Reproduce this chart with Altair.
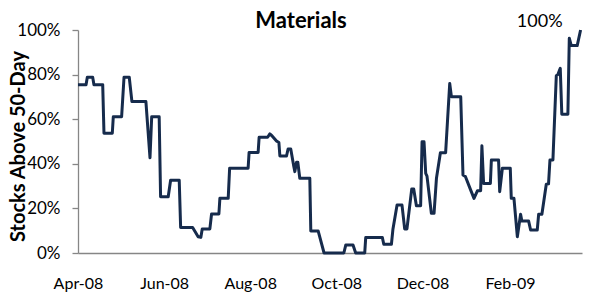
import altair as alt
import pandas as pd

# days after 2008-04-01 at each vertex of the line, and share of stocks above 50-day MA
days = [0, 5.7, 6.6, 10.4, 11.3, 17.5, 18.4, 24.3, 25, 30.9, 32.6, 36.3, 38.2, 48.1,
        51, 52.2, 57.5, 58.5, 63.9, 65.6, 71.7, 72.7, 81.2, 85.1, 87, 88, 93.4, 94.6,
        99.8, 100.5, 106.4, 107.4, 120.5, 121.2, 127.6, 128.3, 134.3, 135.9, 137.5,
        140.6, 142.3, 143, 147.7, 148.8, 150.7, 152.9, 153.6, 154.8, 155.7, 157.1,
        164.2, 164.9, 170.1, 174.3, 188.3, 189.7, 194.8, 196.7, 203.1, 203.8, 215.6,
        216.6, 222, 223.1, 226, 229.5, 231.4, 233, 236.4, 237.8, 239.7, 242.7, 243.7,
        245.1, 246.3, 247.2, 250.3, 252.2, 253.9, 256.7, 260.4, 263.3, 264.5, 271.1,
        272.7, 274.4, 278.1, 280.5, 282.9, 285.2, 286.1, 287.3, 292.1, 292.8, 297.9,
        298.7, 300.6, 306.2, 306.9, 308.8, 311.2, 313.5, 314.4, 319.2, 320.6, 325.3,
        326.3, 328.6, 331.7, 333.3, 334.3, 336.4, 338.8, 339.9, 341.6, 342.7, 347,
        348, 349.4, 353.6, 356]
values = [75.5, 75.5, 78.8, 78.8, 75.5, 75.5, 53.7, 53.7, 61.1, 61.1, 78.8, 78.8, 67.9,
          67.9, 42.7, 61.1, 61.1, 25.2, 25.2, 32.6, 32.6, 11.4, 11.4, 7.3, 7.0, 10.8,
          10.8, 17.5, 17.5, 24.5, 24.5, 38, 38, 45.1, 45.1, 51.9, 51.9, 53.4, 52.5,
          50.2, 49.5, 43.5, 43.5, 46.6, 46.6, 38.7, 36.5, 40.7, 40.7, 33.5, 33.5, 9.9,
          9.9, 0, 0, 3.6, 3.6, 0, 0, 6.9, 6.9, 3.9, 3.9, 10.8, 21.5, 21.5, 10.8, 10.8,
          28.7, 28.7, 21.2, 21.2, 49.9, 49.9, 35.7, 34.5, 17.8, 17.8, 33.5, 45, 45, 76,
          70.1, 70.1, 35, 34.3, 28.3, 24.5, 27.9, 27.9, 48.1, 31.2, 31.2, 41.7, 41.7,
          27.5, 38, 38, 24.5, 24.5, 7.3, 17.4, 14.3, 14.3, 10.3, 10.3, 17.4, 17.4, 30.8,
          31, 41.7, 41.7, 79.5, 80, 82.8, 62.2, 62.2, 96.3, 93, 93, 100]

title_text = "Materials"
y_title = "Stocks Above 50-Day"
x_tick_months = [(2008, 4), (2008, 6), (2008, 8), (2008, 10), (2008, 12), (2009, 2)]
y_ticks = [0, 0.2, 0.4, 0.6, 0.8, 1.0]
end_label = "100%"

FONT = "Lato"
LINE = "#162B4C"
AXIS = "#868686"

start = pd.Timestamp("2008-04-01")
df = pd.DataFrame({
    "date": [start + pd.to_timedelta(d, unit="D") for d in days],
    "value": [v / 100 for v in values],
})
df["date"] = df["date"].dt.strftime("%Y-%m-%dT%H:%M:%S")
last = df.tail(1).copy()
last["label"] = end_label

x_enc = alt.X(
    "date:T",
    scale=alt.Scale(domain=[alt.DateTime(year=2008, month=4, date=1),
                            alt.DateTime(year=2009, month=3, date=24)]),
    axis=alt.Axis(
        values=[alt.DateTime(year=y, month=m, date=1) for y, m in x_tick_months],
        format="%b-%y", title=None, grid=False, ticks=False, labelFlush=False,
        labelOverlap=False, domainColor=AXIS, domainWidth=1.3, labelFontSize=16,
        labelFont=FONT, labelColor="#000000", labelPadding=22,
    ),
)
y_enc = alt.Y(
    "value:Q",
    scale=alt.Scale(domain=[0, 1], nice=False),
    axis=alt.Axis(
        values=y_ticks, format=".0%", title=y_title, grid=False,
        tickSize=6, tickColor=AXIS, tickWidth=1.3, domainColor=AXIS, domainWidth=1.3,
        labelFontSize=17, labelFont=FONT, labelColor="#000000", labelPadding=12,
        titleFontSize=20, titleFont=FONT, titleFontWeight="bold", titleColor="#000000",
        titleX=-50, titleY=116,
    ),
)

line = alt.Chart(df).mark_line(color=LINE, strokeWidth=3, strokeJoin="round").encode(
    x=x_enc, y=y_enc
)
label = alt.Chart(last).mark_text(
    align="right", baseline="alphabetic", dx=-18, dy=-3,
    fontSize=18, font=FONT, color="#000000",
).encode(x="date:T", y="value:Q", text="label:N")

title = alt.Chart(pd.DataFrame({"t": [title_text]})).mark_text(
    align="center", baseline="alphabetic", font=FONT, fontSize=22,
    fontWeight="bold", color="#000000",
).encode(x=alt.value(223), y=alt.value(-2), text="t:N")

chart = (line + label + title).properties(
    width=504, height=223,
    autosize=alt.AutoSizeParams(type="none"),
    padding={"left": 70, "top": 22, "right": 2, "bottom": 39},
).configure_view(stroke=None)

chart.save("out.html", embed_options={"renderer": "svg", "actions": False})
